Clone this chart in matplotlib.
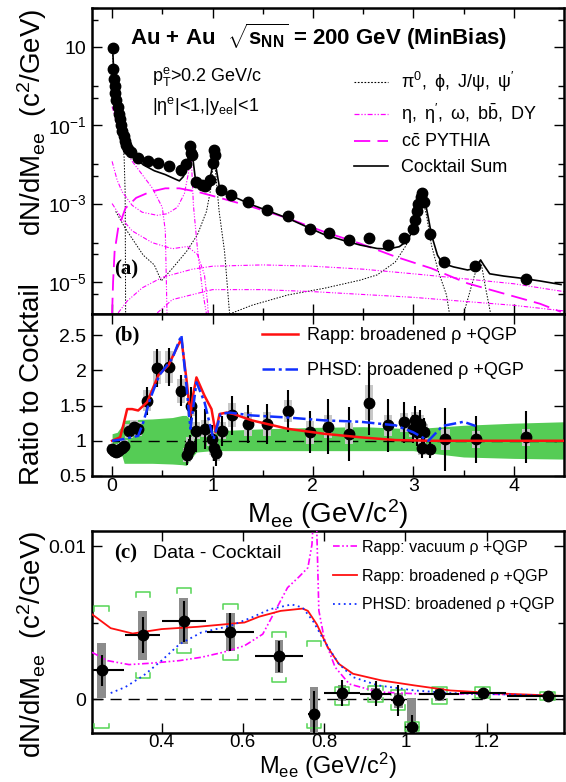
import numpy as np
import matplotlib
matplotlib.use('Agg')
import matplotlib.pyplot as plt
from matplotlib.patches import Rectangle
from matplotlib.lines import Line2D
from matplotlib.ticker import FixedLocator, FixedFormatter, NullFormatter

plt.rcParams['font.family'] = ['Liberation Sans', 'DejaVu Sans']
plt.rcParams['mathtext.fontset'] = 'custom'
plt.rcParams['mathtext.rm'] = 'Liberation Sans'
plt.rcParams['mathtext.it'] = 'Liberation Sans:italic'
plt.rcParams['mathtext.bf'] = 'Liberation Sans:bold'

# ---------------- panel (a): mass spectrum vs cocktail ----------------
a_mass = [0.005, 0.011, 0.018, 0.025, 0.032, 0.043, 0.054, 0.065, 0.075, 0.086,
          0.10, 0.115, 0.126, 0.14, 0.16, 0.19, 0.26, 0.355, 0.456, 0.57,
          0.69, 0.74, 0.78, 0.785, 0.80, 0.84, 0.90, 0.93, 0.976, 1.0,
          1.01, 1.02, 1.08, 1.18, 1.35, 1.54, 1.75, 1.97, 2.16, 2.36,
          2.56, 2.75, 2.91, 3.0, 3.02, 3.04, 3.05, 3.075, 3.09, 3.11,
          3.17, 3.31, 3.61, 4.12]
a_yield = [9.6, 2.7, 1.5, 1.0, 0.67, 0.45, 0.30, 0.20, 0.147, 0.10,
           0.073, 0.052, 0.039, 0.032, 0.025, 0.021, 0.0145, 0.0126, 0.0107, 0.0093,
           0.0072, 0.0100, 0.029, 0.0195, 0.0178, 0.0036, 0.0030, 0.00275, 0.0041, 0.0107,
           0.024, 0.017, 0.0022, 0.0017, 0.00107, 0.00069, 0.00047, 0.00023, 0.000173, 0.000117,
           0.00013, 8.7e-5, 1.3e-4, 2.3e-4, 3.8e-4, 6.3e-4, 1.0e-3, 1.5e-3, 1.85e-3, 1.1e-3,
           1.7e-4, 3.2e-5, 2.6e-5, 1.2e-5]

sum_mass = [0.005, 0.015, 0.025, 0.04, 0.06, 0.08, 0.10, 0.12, 0.14, 0.20,
            0.31, 0.42, 0.53, 0.64, 0.67, 0.71, 0.74, 0.77, 0.78, 0.80,
            0.83, 0.87, 0.92, 0.96, 0.99, 1.01, 1.03, 1.07, 1.10, 1.21,
            1.39, 1.57, 1.75, 1.93, 2.11, 2.29, 2.47, 2.64, 2.75, 2.86,
            2.93, 2.99, 3.04, 3.075, 3.09, 3.11, 3.15, 3.18, 3.24, 3.29,
            3.40, 3.54, 3.61, 3.67, 3.70, 3.76, 3.90, 4.08, 4.26, 4.47]
sum_yield = [10.9, 2.6, 1.17, 0.55, 0.24, 0.13, 0.08, 0.05, 0.034, 0.018,
             0.0098, 0.0069, 0.0055, 0.0041, 0.0038, 0.0049, 0.0081, 0.021, 0.029, 0.0178,
             0.0041, 0.0032, 0.00275, 0.0033, 0.0066, 0.024, 0.010, 0.0025, 0.0019, 0.0015,
             0.00093, 0.00063, 0.00042, 0.00026, 0.000162, 0.000117, 8.7e-5, 7.1e-5, 6.9e-5, 7.9e-5,
             1.07e-4, 1.9e-4, 6.3e-4, 1.66e-3, 2.0e-3, 1.38e-3, 4.2e-4, 1.6e-4, 4.8e-5, 2.95e-5,
             2.4e-5, 2.0e-5, 2.2e-5, 3.6e-5, 2.7e-5, 1.6e-5, 1.4e-5, 1.23e-5, 1.05e-5, 8.5e-6]

# black dotted components
pi0_mass = [0.0, 0.02, 0.04, 0.06, 0.08, 0.10, 0.12, 0.13, 0.135]
pi0_yield = [10.5, 1.7, 0.5, 0.2, 0.1, 0.05, 0.015, 0.002, 1.5e-6]
phi_mass = [0.036, 0.133, 0.31, 0.42, 0.49, 0.60, 0.74, 0.85, 0.94, 0.99,
            1.012, 1.03, 1.066, 1.12, 1.17]
phi_yield = [6.3e-4, 2.3e-4, 4.8e-5, 2.7e-5, 1.05e-5, 2.2e-5, 5.9e-5, 1.6e-4, 6.3e-4, 3e-3,
             0.024, 6.6e-3, 6.3e-4, 5.9e-5, 1.5e-6]
jpsi_mass = [1.17, 1.39, 1.75, 2.11, 2.47, 2.64, 2.82, 2.93, 3.0, 3.06,
             3.08, 3.13, 3.18, 3.25, 3.33, 3.36]
jpsi_yield = [1.5e-6, 2.5e-6, 4.6e-6, 6.8e-6, 1.1e-5, 1.5e-5, 3.2e-5, 8.7e-5, 2.8e-4, 9.3e-4,
              1.86e-3, 5.1e-4, 8.7e-5, 1.8e-5, 4.6e-6, 1.5e-6]
psi2_mass = [3.50, 3.61, 3.67, 3.72, 3.77]
psi2_yield = [1.5e-6, 1.5e-5, 3.6e-5, 6.8e-6, 1.5e-6]

# magenta dash-dot-dot components
eta_mass = [0.0, 0.02, 0.05, 0.10, 0.15, 0.20, 0.30, 0.40, 0.50, 0.53, 0.547]
eta_yield = [0.3, 0.2, 0.1, 0.04, 0.02, 0.012, 0.0055, 0.0025, 0.0008, 0.0002, 1.5e-6]
omega_mass = [0.0, 0.05, 0.10, 0.20, 0.30, 0.45, 0.55, 0.65, 0.72, 0.76,
              0.775, 0.782, 0.79, 0.81, 0.85, 0.90, 0.94]
omega_yield = [0.012, 0.004, 0.002, 0.0009, 0.0006, 0.0005, 0.00055, 0.0008, 0.0018, 0.006,
               0.02, 0.028, 0.012, 0.0009, 7e-5, 6e-6, 1.5e-6]
etap_mass = [0.0, 0.10, 0.20, 0.40, 0.60, 0.75, 0.85, 0.92, 0.95, 0.958]
etap_yield = [1e-3, 4e-4, 2e-4, 1e-4, 7e-5, 8e-5, 5e-5, 1.5e-5, 3e-6, 1.5e-6]
bb_mass = [0.06, 0.15, 0.3, 0.5, 0.8, 1.0, 1.5, 2.0, 2.5, 3.0, 3.5, 4.0, 4.5]
bb_yield = [1.6e-6, 3.2e-6, 7e-6, 1.3e-5, 2.1e-5, 2.5e-5, 2.7e-5, 2.5e-5, 2.1e-5, 1.6e-5,
            1.2e-5, 8.9e-6, 5.6e-6]
dy_mass = [0.45, 0.6, 1.0, 1.5, 2.0, 3.0, 4.0, 4.5]
dy_yield = [1.6e-6, 3.5e-6, 6.3e-6, 6.3e-6, 5.6e-6, 4e-6, 2.5e-6, 1.8e-6]

# charm (PYTHIA), magenta long dashes
cc_mass = [0.0, 0.01, 0.025, 0.06, 0.133, 0.24, 0.38, 0.53, 0.67, 0.85,
           1.03, 1.39, 1.75, 2.11, 2.47, 2.82, 3.18, 3.54, 3.90, 4.26, 4.47]
cc_yield = [1.5e-6, 1e-5, 5.9e-5, 2.3e-4, 7.6e-4, 1.4e-3, 2.0e-3, 2.45e-3, 2.45e-3, 2.0e-3,
            1.5e-3, 8.3e-4, 4.2e-4, 1.9e-4, 9.5e-5, 4.4e-5, 2.2e-5, 9.1e-6, 5e-6, 2.75e-6, 1.7e-6]

# ---------------- panel (b): ratio to cocktail ----------------
b_mass = [0.0, 0.02, 0.04, 0.06, 0.08, 0.10, 0.12, 0.17, 0.22, 0.26,
          0.35, 0.45, 0.57, 0.69, 0.75, 0.77, 0.78, 0.79, 0.84, 0.93,
          0.99, 1.01, 1.03, 1.09, 1.19, 1.35, 1.54, 1.75, 1.97, 2.15,
          2.36, 2.56, 2.75, 2.91, 3.0, 3.02, 3.04, 3.07, 3.09, 3.11,
          3.17, 3.32, 3.62, 4.12]
b_ratio = [0.88, 0.85, 0.84, 0.86, 0.88, 0.90, 0.93, 1.14, 1.19, 1.17,
           1.57, 2.04, 2.05, 1.71, 0.80, 0.87, 0.93, 1.50, 1.14, 1.17,
           1.02, 0.90, 0.82, 1.14, 1.36, 1.24, 1.24, 1.42, 1.12, 1.20,
           1.10, 1.54, 1.22, 1.26, 1.17, 1.29, 1.12, 1.24, 0.90, 1.12,
           0.88, 1.02, 1.02, 1.05]
b_stat = [0.03, 0.03, 0.03, 0.03, 0.03, 0.04, 0.05, 0.06, 0.07, 0.07,
          0.20, 0.27, 0.27, 0.22, 0.15, 0.15, 0.15, 0.26, 0.30, 0.28,
          0.20, 0.18, 0.18, 0.21, 0.28, 0.27, 0.28, 0.30, 0.30, 0.39,
          0.38, 0.46, 0.38, 0.29, 0.20, 0.20, 0.20, 0.20, 0.15, 0.20,
          0.13, 0.45, 0.33, 0.37]
b_sys = [0.07, 0.07, 0.07, 0.07, 0.07, 0.07, 0.08, 0.10, 0.10, 0.10,
         0.15, 0.23, 0.23, 0.17, 0.10, 0.10, 0.12, 0.15, 0.12, 0.12,
         0.10, 0.10, 0.10, 0.12, 0.17, 0.17, 0.17, 0.16, 0.16, 0.16,
         0.15, 0.25, 0.15, 0.13, 0.12, 0.12, 0.12, 0.12, 0.10, 0.12,
         0.08, 0.15, 0.12, 0.12]

band_mass = [0.0, 0.05, 0.10, 0.12, 0.20, 0.40, 0.60, 0.70, 0.74, 0.78,
             0.84, 1.0, 1.5, 2.0, 2.5, 3.0, 3.2, 3.5, 4.0, 4.5]
band_hi = [1.10, 1.12, 1.22, 1.29, 1.30, 1.31, 1.33, 1.36, 1.36, 1.30,
           1.16, 1.14, 1.17, 1.19, 1.20, 1.17, 1.19, 1.22, 1.25, 1.27]
band_lo = [0.93, 0.88, 0.78, 0.68, 0.68, 0.68, 0.67, 0.66, 0.65, 0.74,
           0.84, 0.86, 0.86, 0.86, 0.86, 0.86, 0.82, 0.77, 0.75, 0.74]

rapp_b_mass = [0.0, 0.08, 0.115, 0.15, 0.20, 0.26, 0.35, 0.46, 0.56, 0.69,
               0.74, 0.78, 0.80, 0.84, 0.92, 0.99, 1.03, 1.07, 1.14, 1.21,
               1.39, 1.75, 2.11, 2.47, 2.82, 3.18, 4.5]
rapp_b_ratio = [1.0, 1.05, 1.24, 1.45, 1.45, 1.43, 1.55, 1.93, 2.07, 2.45,
                1.88, 1.36, 1.60, 1.90, 1.64, 1.45, 1.12, 1.38, 1.40, 1.38,
                1.29, 1.17, 1.10, 1.05, 1.01, 1.0, 1.0]
phsd_b_mass = [0.0, 0.10, 0.26, 0.31, 0.38, 0.47, 0.60, 0.69, 0.74, 0.78,
               0.84, 0.92, 1.01, 1.08, 1.17, 1.39, 1.75, 2.11, 2.47, 2.82,
               3.0, 3.15, 3.29, 3.50, 3.62]
phsd_b_ratio = [1.0, 1.02, 1.07, 1.26, 1.60, 1.93, 2.17, 2.50, 1.79, 1.17,
                1.83, 1.55, 1.02, 1.38, 1.40, 1.36, 1.33, 1.29, 1.27, 1.22,
                1.12, 1.0, 1.21, 1.27, 1.21]

# ---------------- panel (c): data - cocktail ----------------
c_mass = [0.253, 0.354, 0.455, 0.569, 0.689, 0.775, 0.844, 0.927, 0.982, 1.016,
          1.083, 1.19, 1.35]
c_excess = [0.0019, 0.0042, 0.0051, 0.0044, 0.0028, -0.00097, 0.00041, 0.00037, -0.00006, -0.0018,
            0.00032, 0.00043, 0.00022]
c_xerr = [0.055, 0.043, 0.055, 0.058, 0.058, 0.015, 0.045, 0.038, 0.018, 0.016,
          0.049, 0.057, 0.10]
c_stat = [0.0010, 0.0012, 0.00135, 0.00125, 0.0010, 0.0015, 0.00085, 0.0008, 0.0010, 0.0008,
          0.00025, 0.0002, 0.0001]
c_sys = [0.0018, 0.0016, 0.0015, 0.00125, 0.00105, 0.0018, 0.0005, 0.0004, 0.0005, 0.0019,
         0.0004, 0.0002, 0.0001]
c_cock_hi = [0.0061, 0.0070, 0.00725, 0.0062, 0.0044, 0.0038, 0.0008, 0.0009, 0.0006, -0.0015,
             0.0008, 0.0008, 0.0005]
c_cock_lo = [-0.0019, 0.0014, 0.0030, 0.0026, 0.0011, -0.0019, -0.0004, -0.0002, -0.0007, -0.0021,
             -0.0003, 0.0001, -0.00006]

vac_mass = [0.229, 0.267, 0.32, 0.373, 0.444, 0.498, 0.551, 0.604, 0.649, 0.684,
            0.71, 0.738, 0.76, 0.77, 0.776, 0.78, 0.787, 0.80, 0.827, 0.862,
            0.933, 1.022, 1.11, 1.24, 1.387]
vac_excess = [0.00307, 0.00253, 0.00227, 0.00236, 0.00253, 0.00275, 0.00307, 0.0035, 0.00426, 0.0060,
              0.0073, 0.0080, 0.0086, 0.0101, 0.013, 0.013, 0.0058, 0.0040, 0.0021, 0.0010,
              0.00048, 0.00037, 0.00037, 0.00032, 0.0002]
rapp_c_mass = [0.229, 0.275, 0.329, 0.40, 0.489, 0.604, 0.64, 0.693, 0.747, 0.76,
               0.782, 0.809, 0.836, 0.871, 0.942, 1.022, 1.11, 1.244, 1.387]
rapp_c_excess = [0.00556, 0.00465, 0.0043, 0.00459, 0.00474, 0.00502, 0.0054, 0.00578, 0.00593, 0.00578,
                 0.0049, 0.0034, 0.00232, 0.00167, 0.00123, 0.00091, 0.00058, 0.00037, 0.00022]
phsd_c_mass = [0.275, 0.311, 0.356, 0.40, 0.444, 0.498, 0.569, 0.622, 0.667, 0.72,
               0.747, 0.773, 0.80, 0.836, 0.871, 0.933, 1.022, 1.11, 1.244, 1.387]
phsd_c_excess = [0.00041, 0.0008, 0.00156, 0.00253, 0.0036, 0.00437, 0.0048, 0.00535, 0.00589, 0.0062,
                 0.0060, 0.0051, 0.00383, 0.00232, 0.00145, 0.00091, 0.00058, 0.00041, 0.00032, 0.0002]

# ---------------- figure ----------------
W, H = 566, 782
fig = plt.figure(figsize=(W / 100, H / 100), dpi=100)


def fx(px):
    return px / W


def fy(py):
    return 1 - py / H


left, right = 92, 564
ax_a = fig.add_axes([fx(left), fy(314), fx(right - left), (314 - 8) / H])
ax_b = fig.add_axes([fx(left), fy(476), fx(right - left), (476 - 314) / H])
ax_c = fig.add_axes([fx(left), fy(733), fx(right - left), (733 - 531) / H])

for ax in (ax_a, ax_b, ax_c):
    for sp in ax.spines.values():
        sp.set_linewidth(1.8)
    ax.tick_params(which='both', direction='in', top=True, right=True,
                   labelsize=14, width=1.0, pad=4)
    ax.tick_params(which='major', length=7)
    ax.tick_params(which='minor', length=4)
    ax.tick_params(axis='x', pad=1.5)
ax_c.tick_params(axis='x', pad=1, labelsize=13.5)

magenta = '#ff00ff'
ddd = (0, (4, 1.5, 1, 1.5, 1, 1.5))
dot = (0, (1.5, 1.5))

# panel a
ax_a.set_yscale('log')
ax_a.plot(pi0_mass, pi0_yield, color='k', lw=0.7, linestyle=dot)
ax_a.plot(phi_mass, phi_yield, color='k', lw=0.7, linestyle=dot)
ax_a.plot(jpsi_mass, jpsi_yield, color='k', lw=0.7, linestyle=dot)
ax_a.plot(psi2_mass, psi2_yield, color='k', lw=0.7, linestyle=dot)
for m, y in [(eta_mass, eta_yield), (omega_mass, omega_yield), (etap_mass, etap_yield),
             (bb_mass, bb_yield), (dy_mass, dy_yield)]:
    ax_a.plot(m, y, color=magenta, lw=0.8, linestyle=ddd)
ax_a.plot(cc_mass, cc_yield, color=magenta, lw=1.3, linestyle=(0, (9, 4)))
ax_a.plot(sum_mass, sum_yield, color='k', lw=1.2)
ax_a.plot(a_mass, a_yield, 'o', color='k', ms=7.5, zorder=5)

ax_a.set_xlim(-0.2, 4.5)
ax_a.set_ylim(1.5e-6, 100)
ax_a.xaxis.set_major_locator(FixedLocator([0, 1, 2, 3, 4]))
ax_a.xaxis.set_minor_locator(FixedLocator([0.5, 1.5, 2.5, 3.5]))
ax_a.xaxis.set_major_formatter(NullFormatter())
ax_a.yaxis.set_major_locator(FixedLocator([10, 1e-1, 1e-3, 1e-5]))
ax_a.yaxis.set_major_formatter(FixedFormatter(['10', r'$\mathrm{10^{-1}}$',
                                               r'$\mathrm{10^{-3}}$', r'$\mathrm{10^{-5}}$']))
ax_a.yaxis.set_minor_locator(FixedLocator([100, 1, 1e-2, 1e-4, 1e-6, 50, 0.5, 5e-3, 5e-5, 5e-6]))
ax_a.yaxis.set_minor_formatter(NullFormatter())

leg_a = [Line2D([], [], color='k', lw=0.8, linestyle=dot),
         Line2D([], [], color=magenta, lw=0.9, linestyle=ddd),
         Line2D([], [], color=magenta, lw=1.3, linestyle=(0, (9, 4))),
         Line2D([], [], color='k', lw=1.2)]
lab_a = [r"$\mathrm{\pi^0,\ \phi,\ J/\psi,\ \psi'}$",
         r"$\mathrm{\eta,\ \eta',\ \omega,\ b\bar{b},\ DY}$",
         r"$\mathrm{c\bar{c}}$ PYTHIA", 'Cocktail Sum']
ax_a.legend(leg_a, lab_a, loc='upper left', bbox_to_anchor=(0.555, 0.797), frameon=False,
            fontsize=13, handlelength=1.9, handletextpad=0.7, labelspacing=0.42,
            borderaxespad=0, borderpad=0)

fig.text(fx(130), fy(37), r'Au + Au  $\sqrt{\mathbf{s}_{\mathbf{NN}}}$ = 200 GeV (MinBias)',
         fontsize=16, fontweight='bold', va='center', ha='left')
fig.text(fx(152), fy(76), r'$\mathrm{p_T^e}$>0.2 GeV/c', fontsize=13, va='center')
fig.text(fx(152), fy(106), r'$\mathrm{|\eta^e|}$<1,$\mathrm{|y_{ee}|}$<1', fontsize=13, va='center')
fig.text(fx(114), fy(269), '(a)', family='Liberation Serif', fontweight='bold',
         fontsize=15, va='center')
fig.text(fx(32), fy(8), r'dN/dM$_\mathrm{ee}$  (c$^2$/GeV)', rotation=90,
         fontsize=20, ha='center', va='top')

# panel b
ax_b.fill_between(band_mass, band_lo, band_hi, color='#55cc55', lw=0, zorder=1)
ax_b.hlines(1, 0, 4.5, colors='k', lw=1.0, linestyles=(0, (8, 5)), zorder=2)
for m, r, s in zip(b_mass, b_ratio, b_sys):
    ax_b.add_patch(Rectangle((m - 0.04, r - s), 0.08, 2 * s, color='#c8c8c8', lw=0, zorder=3))
ax_b.errorbar(b_mass, b_ratio, yerr=b_stat, fmt='o', color='k', ms=7.5,
              elinewidth=1.5, capsize=0, zorder=5)
l_rapp, = ax_b.plot(rapp_b_mass, rapp_b_ratio, color='#ff1010', lw=1.8, zorder=6)
l_phsd, = ax_b.plot(phsd_b_mass, phsd_b_ratio, color='#1030ff', lw=1.8,
                    linestyle=(0, (5, 1.5, 1.2, 1.5)), zorder=6)
ax_b.set_xlim(-0.2, 4.5)
ax_b.set_ylim(0.5, 2.8)
ax_b.xaxis.set_major_locator(FixedLocator([0, 1, 2, 3, 4]))
ax_b.xaxis.set_major_formatter(FixedFormatter(['0', '1', '2', '3', '4']))
ax_b.xaxis.set_minor_locator(FixedLocator([0.5, 1.5, 2.5, 3.5]))
ax_b.yaxis.set_major_locator(FixedLocator([0.5, 1, 1.5, 2, 2.5]))
ax_b.yaxis.set_major_formatter(FixedFormatter(['0.5', '1', '1.5', '2', '2.5']))
ax_b.legend([l_rapp, l_phsd], ['Rapp: broadened ρ +QGP', 'PHSD: broadened ρ +QGP'],
            loc='upper left', bbox_to_anchor=(0.36, 0.92), frameon=False, fontsize=13,
            handlelength=2.0, handletextpad=0.5, labelspacing=1.0,
            borderaxespad=0, borderpad=0)
fig.text(fx(114), fy(335), '(b)', family='Liberation Serif', fontweight='bold',
         fontsize=15, va='center')
fig.text(fx(32), fy(384), 'Ratio to Cocktail', rotation=90, fontsize=20,
         ha='center', va='center')
fig.text(fx(328), fy(497), r'M$_\mathrm{ee}$ (GeV/c$^2$)', fontsize=20,
         ha='center', va='top')

# panel c
green = '#55d455'
ax_c.hlines(0, 0.23, 1.39, colors='k', lw=1.0, linestyles=(0, (8, 5)), zorder=2)
for m, v, s in zip(c_mass, c_excess, c_sys):
    ax_c.add_patch(Rectangle((m - 0.011, v - s), 0.022, 2 * s, color='#8c8c8c', lw=0, zorder=3))
for m, hi, lo in zip(c_mass, c_cock_hi, c_cock_lo):
    w, t = 0.018, 0.0003
    ax_c.plot([m - w, m - w, m + w, m + w], [hi - t, hi, hi, hi - t], color=green, lw=1.1, zorder=3)
    ax_c.plot([m - w, m - w, m + w, m + w], [lo + t, lo, lo, lo + t], color=green, lw=1.1, zorder=3)
ax_c.errorbar(c_mass, c_excess, xerr=c_xerr, yerr=c_stat, fmt='o', color='k', ms=7.5,
              elinewidth=1.5, capsize=0, zorder=5)
l_vac, = ax_c.plot(vac_mass, vac_excess, color=magenta, lw=1.2, linestyle=ddd, zorder=4)
l_rc, = ax_c.plot(rapp_c_mass, rapp_c_excess, color='#ff1010', lw=1.3, zorder=4)
l_pc, = ax_c.plot(phsd_c_mass, phsd_c_excess, color='#1030ff', lw=1.3,
                  linestyle=(0, (1, 2)), zorder=4)
ax_c.set_xlim(0.229, 1.39)
ax_c.set_ylim(-0.0022, 0.011)
ax_c.xaxis.set_major_locator(FixedLocator([0.4, 0.6, 0.8, 1.0, 1.2]))
ax_c.xaxis.set_major_formatter(FixedFormatter(['0.4', '0.6', '0.8', '1', '1.2']))
ax_c.yaxis.set_major_locator(FixedLocator([0, 0.01]))
ax_c.yaxis.set_major_formatter(FixedFormatter(['0', '0.01']))
ax_c.yaxis.set_minor_locator(FixedLocator([0.005]))
ax_c.legend([l_vac, l_rc, l_pc],
            ['Rapp: vacuum ρ +QGP', 'Rapp: broadened ρ +QGP', 'PHSD: broadened ρ +QGP'],
            loc='upper left', bbox_to_anchor=(0.51, 0.955), frameon=False, fontsize=11.5,
            handlelength=1.5, handletextpad=0.35, labelspacing=0.85,
            borderaxespad=0, borderpad=0)
fig.text(fx(114), fy(553), '(c)', family='Liberation Serif', fontweight='bold',
         fontsize=15, va='center')
fig.text(fx(153), fy(553), 'Data - Cocktail', fontsize=14, va='center')
fig.text(fx(32), fy(530), r'dN/dM$_\mathrm{ee}$  (c$^2$/GeV)', rotation=90,
         fontsize=20, ha='center', va='top')
fig.text(fx(328), fy(781), r'M$_\mathrm{ee}$ (GeV/c$^2$)', fontsize=17,
         ha='center', va='bottom')

fig.savefig('out.png', dpi=100)
